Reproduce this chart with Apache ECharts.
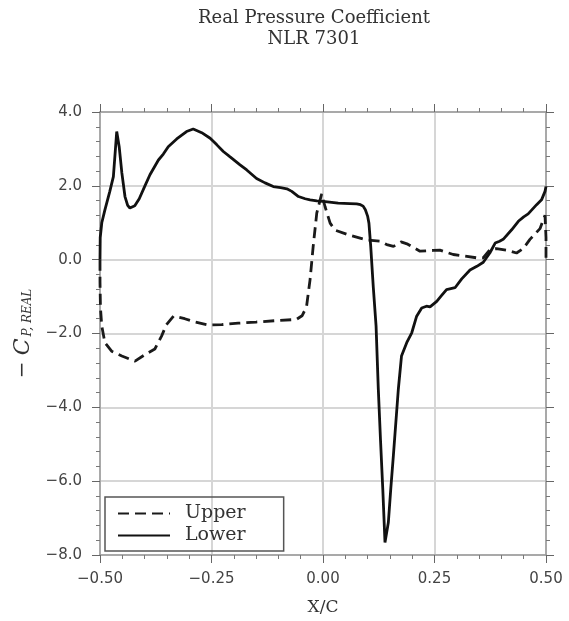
<!DOCTYPE html>
<html>
<head>
<meta charset="utf-8">
<script src="https://cdn.jsdelivr.net/npm/echarts@6/dist/echarts.min.js"></script>
<style>
  html, body { margin: 0; padding: 0; background: #fff; }
  #chart { width: 569px; height: 621px; }
</style>
</head>
<body>
<div id="chart"></div>
<script>
// Pressure distribution on the NLR 7301 section, chordwise station X/C vs -Cp
const lowerX = [-0.5, -0.4995, -0.496, -0.489, -0.478, -0.470, -0.466, -0.4625, -0.457, -0.451, -0.444, -0.438,
  -0.433, -0.422, -0.412, -0.40, -0.388, -0.369, -0.358, -0.347, -0.328, -0.306, -0.291, -0.272, -0.253, -0.238,
  -0.2235, -0.209, -0.186, -0.171, -0.149, -0.13, -0.1115, -0.095, -0.081, -0.070, -0.055, -0.040, -0.029,
  -0.014, 0.0, 0.034, 0.06, 0.0755, 0.084, 0.090, 0.095, 0.100, 0.103, 0.107, 0.1128, 0.119, 0.124, 0.129,
  0.134, 0.139, 0.1465, 0.152, 0.1577, 0.1689, 0.176, 0.1877, 0.199, 0.210, 0.2213, 0.232, 0.240, 0.255,
  0.266, 0.277, 0.296, 0.311, 0.3296, 0.345, 0.3594, 0.374, 0.386, 0.396, 0.404, 0.423, 0.438, 0.450,
  0.460, 0.479, 0.490, 0.4978, 0.5];
const lowerY = [0.0, 0.6, 1.0, 1.35, 1.85, 2.25, 2.9, 3.47, 3.06, 2.35, 1.71, 1.47,
  1.40, 1.46, 1.65, 1.98, 2.30, 2.70, 2.86, 3.06, 3.27, 3.47, 3.54, 3.44, 3.29, 3.11,
  2.93, 2.79, 2.57, 2.43, 2.20, 2.08, 1.98, 1.95, 1.92, 1.85, 1.71, 1.65, 1.62,
  1.59, 1.58, 1.53, 1.52, 1.51, 1.49, 1.45, 1.35, 1.18, 0.99, 0.36, -0.75, -1.80, -3.5, -4.9,
  -6.2, -7.66, -7.12, -6.2, -5.32, -3.51, -2.61, -2.25, -1.98, -1.53, -1.31, -1.26, -1.28, -1.13,
  -0.97, -0.81, -0.76, -0.52, -0.28, -0.18, -0.07, 0.18, 0.45, 0.50, 0.55, 0.81, 1.04, 1.16,
  1.24, 1.49, 1.62, 1.85, 1.98];

const upperX = [-0.5, -0.5, -0.499, -0.496, -0.489, -0.474, -0.451, -0.4215, -0.399, -0.377, -0.362, -0.351,
  -0.335, -0.31, -0.287, -0.257, -0.227, -0.19, -0.15, -0.104, -0.06, -0.047, -0.037, -0.029, -0.022,
  -0.014, -0.003, 0.0045, 0.016, 0.027, 0.06, 0.1, 0.128, 0.143, 0.158, 0.175, 0.19, 0.2175, 0.247,
  0.262, 0.292, 0.3444, 0.359, 0.375, 0.389, 0.415, 0.434, 0.449, 0.464, 0.4865, 0.4978, 0.5, 0.5];
const upperY = [0.0, -0.6, -1.3, -1.8, -2.25, -2.48, -2.61, -2.75, -2.57, -2.42, -2.07, -1.76,
  -1.53, -1.60, -1.69, -1.77, -1.76, -1.72, -1.69, -1.65, -1.62, -1.52, -1.28, -0.54, 0.36,
  1.26, 1.78, 1.44, 0.99, 0.80, 0.66, 0.53, 0.50, 0.41, 0.36, 0.48, 0.42, 0.23, 0.25,
  0.26, 0.14, 0.05, 0.05, 0.28, 0.30, 0.25, 0.18, 0.30, 0.55, 0.84, 1.20, 0.6, 0.05];

const xTickLabels = { '-0.5': '\u22120.50', '-0.25': '\u22120.25', '0': '0.00', '0.25': '0.25', '0.5': '0.50' };
const yTickLabels = { '-8': '\u22128.0', '-6': '\u22126.0', '-4': '\u22124.0', '-2': '\u22122.0', '0': '0.0', '2': '2.0', '4': '4.0' };

const pairs = (xs, ys) => xs.map((x, i) => [x, ys[i]]);

const frameLine = { show: true, onZero: false, lineStyle: { color: '#9a9a9a', width: 1.5 } };
const majorTick = { show: true, inside: false, length: 8, lineStyle: { color: '#666', width: 1 } };
const minorTick = { show: true, splitNumber: 5, length: 4, lineStyle: { color: '#777', width: 1 } };
const tickFont = { fontFamily: 'DejaVu Sans', fontSize: 15, color: '#444' };
const serif = 'DejaVu Serif';

const chart = echarts.init(document.getElementById('chart'));
chart.setOption({
  animation: false,
  backgroundColor: '#fff',
  title: {
    text: 'Real Pressure Coefficient\nNLR 7301',
    left: 309, top: 3, textAlign: 'center',
    textStyle: { fontFamily: serif, fontSize: 18, fontWeight: 'normal', color: '#333', lineHeight: 21 }
  },
  grid: { left: 100, right: 23, top: 112, bottom: 65, containLabel: false },
  legend: {
    orient: 'vertical', left: 105, top: 497,
    borderColor: '#555', borderWidth: 1.5, borderRadius: 0,
    padding: [7, 38, 6, 12], itemGap: 3, itemWidth: 52, itemHeight: 14,
    itemStyle: { opacity: 0 },
    textStyle: { fontFamily: serif, fontSize: 19, color: '#333', padding: [0, 0, 0, 10] },
    data: ['Upper', 'Lower']
  },
  xAxis: [
    {
      type: 'value', min: -0.5, max: 0.5, interval: 0.25, position: 'bottom',
      axisLine: frameLine, axisTick: majorTick, minorTick: minorTick,
      splitLine: { show: true, lineStyle: { color: '#d6d6d6', width: 2 } },
      axisLabel: Object.assign({ margin: 17, formatter: v => xTickLabels[String(+v.toFixed(2))] }, tickFont),
      name: 'X/C', nameLocation: 'middle', nameGap: 44,
      nameTextStyle: { fontFamily: serif, fontSize: 17, color: '#333' }
    },
    {
      type: 'value', min: -0.5, max: 0.5, interval: 0.25, position: 'top',
      axisLine: frameLine, axisTick: majorTick, minorTick: minorTick,
      splitLine: { show: false }, axisLabel: { show: false }
    }
  ],
  yAxis: [
    {
      type: 'value', min: -8, max: 4, interval: 2, position: 'left',
      axisLine: frameLine, axisTick: majorTick, minorTick: minorTick,
      splitLine: { show: true, lineStyle: { color: '#d6d6d6', width: 2 } },
      axisLabel: Object.assign({ margin: 18, formatter: v => yTickLabels[String(v)] }, tickFont),
      name: '{m|\u2212 }{c|C}{s|P, REAL}', nameLocation: 'middle', nameGap: 66, nameRotate: 90,
      nameTextStyle: {
        rich: {
          m: { fontFamily: serif, fontSize: 20, color: '#333' },
          c: { fontFamily: serif, fontStyle: 'italic', fontSize: 22, color: '#333' },
          s: { fontFamily: serif, fontStyle: 'italic', fontSize: 12, color: '#333', padding: [10, 0, 0, 2] }
        }
      }
    },
    {
      type: 'value', min: -8, max: 4, interval: 2, position: 'right',
      axisLine: frameLine, axisTick: majorTick, minorTick: minorTick,
      splitLine: { show: false }, axisLabel: { show: false }
    }
  ],
  series: [
    {
      name: 'Upper', type: 'line', xAxisIndex: 0, yAxisIndex: 0, symbol: 'none',
      data: pairs(upperX, upperY),
      itemStyle: { color: '#1a1a1a' },
      lineStyle: { color: '#1a1a1a', width: 2.8, type: [11, 6] }
    },
    {
      name: 'Lower', type: 'line', xAxisIndex: 0, yAxisIndex: 0, symbol: 'none',
      data: pairs(lowerX, lowerY),
      itemStyle: { color: '#111' },
      lineStyle: { color: '#111', width: 2.8, type: 'solid' }
    }
  ]
});
</script>
</body>
</html>
